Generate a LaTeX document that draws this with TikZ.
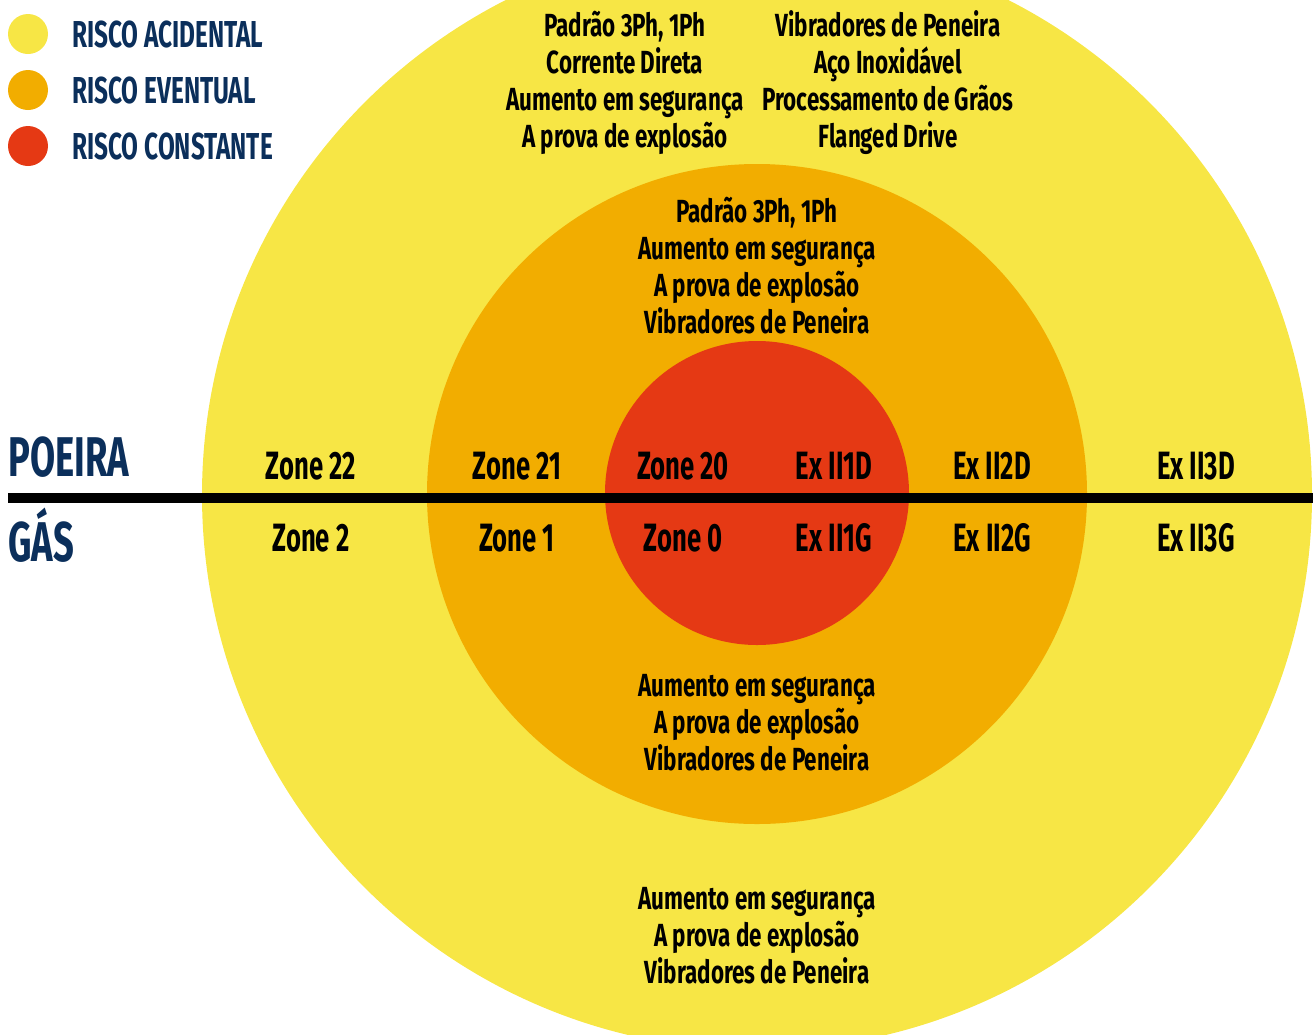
\documentclass[tikz,border=0pt]{standalone}
\usepackage{fontspec}
\newfontfamily\dinfont[FakeStretch=0.65]{Fira Sans}
\newfontfamily\listfont[FakeStretch=0.70]{Fira Sans}
\usetikzlibrary{positioning}

\definecolor{acidental}{HTML}{F7E645}
\definecolor{eventual}{HTML}{F2AD00}
\definecolor{constante}{HTML}{E53914}
\definecolor{azul}{HTML}{0B2F5B}

\begin{document}
\begin{tikzpicture}[
    x=1pt, y=-1pt,
    zona/.style={
        circle,
        inner sep=0pt
    },
    rotulo/.style={
        font=\dinfont\bfseries\fontsize{39.5}{39.5}\selectfont,
        anchor=base
    },
    lista/.style={
        font=\listfont\bfseries\fontsize{32}{37}\selectfont,
        align=center,
        anchor=base
    },
    legenda/.style={
        circle,
        minimum size=40pt,
        inner sep=0pt
    },
    risco/.style={
        text=azul,
        font=\dinfont\bfseries\fontsize{37.5}{37.5}\selectfont,
        anchor=west,
        inner sep=0pt
    },
    meio/.style={
        text=azul,
        font=\dinfont\bfseries\fontsize{56}{56}\selectfont,
        anchor=base west,
        inner sep=0pt
    }
]

    % Page frame
    \useasboundingbox (0,0) rectangle (1313,1034);
    \clip (0,0) rectangle (1313,1034);

    % Three zones of risk
    \node[zona, fill=acidental, minimum size=1110pt] (amarelo) at (757,495) {};
    \node[zona, fill=eventual, minimum size=660pt] (laranja) at (757,494) {};
    \node[zona, fill=constante, minimum size=304pt] (vermelho) at (757,493) {};

    % Dividing line between dust and gas
    \coordinate (inicio) at (8,498);
    \coordinate (fim) at (1313,498);
    \draw[line width=10pt] (inicio) -- (fim);

    % Legend
    \node[legenda, fill=acidental] (leg1) at (28,34) {};
    \node[legenda, fill=eventual] (leg2) at (28,90) {};
    \node[legenda, fill=constante] (leg3) at (28,146) {};
    \node[risco] (txt1) at (72,35) {RISCO ACIDENTAL};
    \node[risco] (txt2) at (72,91) {RISCO EVENTUAL};
    \node[risco] (txt3) at (72,147) {RISCO CONSTANTE};

    % Atmosphere labels
    \node[meio] (poeira) at (8,476) {POEIRA};
    \node[meio] (gas) at (8,561) {GÁS};

    % Zones for dust
    \node[rotulo] (z22) at (311,479) {Zone 22};
    \node[rotulo] (z21) at (517,479) {Zone 21};
    \node[rotulo] (z20) at (683,479) {Zone 20};
    \node[rotulo] (d1) at (834,479) {Ex II1D};
    \node[rotulo] (d2) at (992,479) {Ex II2D};
    \node[rotulo] (d3) at (1196,479) {Ex II3D};

    % Zones for gas
    \node[rotulo] (z2) at (311,551) {Zone 2};
    \node[rotulo] (z1) at (517,551) {Zone 1};
    \node[rotulo] (z0) at (683,551) {Zone 0};
    \node[rotulo] (g1) at (834,551) {Ex II1G};
    \node[rotulo] (g2) at (992,551) {Ex II2G};
    \node[rotulo] (g3) at (1196,551) {Ex II3G};

    % Products per zone (base = last line)
    \node[lista] (topo1) at (625,147) {Padrão 3Ph, 1Ph \\ Corrente Direta \\ Aumento em segurança \\ A prova de explosão};
    \node[lista] (topo2) at (888,147) {Vibradores de Peneira \\ Aço Inoxidável \\ Processamento de Grãos \\ Flanged Drive};
    \node[lista] (meio1) at (757,333) {Padrão 3Ph, 1Ph \\ Aumento em segurança \\ A prova de explosão \\ Vibradores de Peneira};
    \node[lista] (meio2) at (757,770) {Aumento em segurança \\ A prova de explosão \\ Vibradores de Peneira};
    \node[lista] (base1) at (757,983) {Aumento em segurança \\ A prova de explosão \\ Vibradores de Peneira};

\end{tikzpicture}
\end{document}
